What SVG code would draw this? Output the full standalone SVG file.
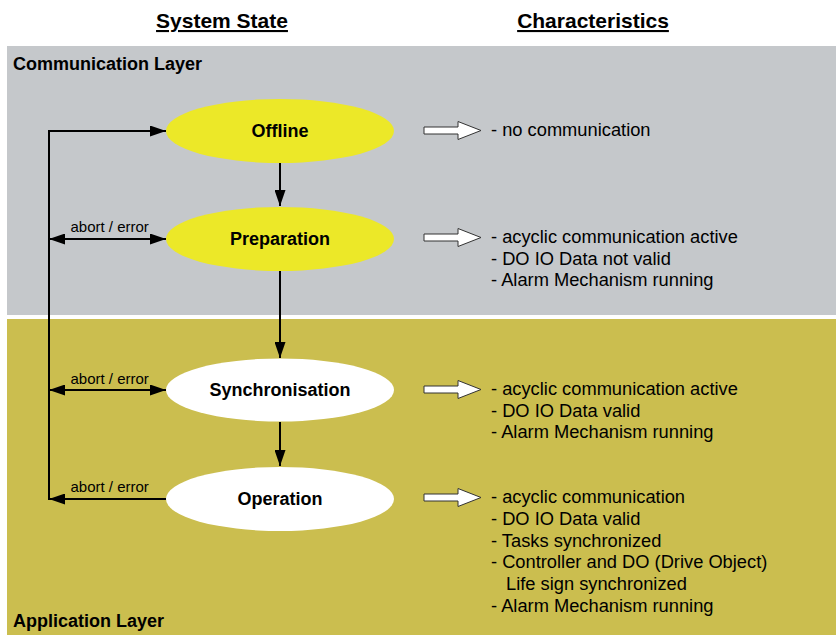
<svg xmlns="http://www.w3.org/2000/svg" width="837" height="635" viewBox="0 0 837 635">
<defs>
<style>
.hdr{font-family:"Liberation Sans",Arial,sans-serif;font-weight:bold;font-size:21px;text-decoration:underline;fill:#000;text-anchor:middle}
.layer{font-family:"Liberation Sans",Arial,sans-serif;font-weight:bold;font-size:18px;fill:#000}
.node{font-family:"Liberation Sans",Arial,sans-serif;font-weight:bold;font-size:18px;fill:#000;text-anchor:middle}
.lbl{font-family:"Liberation Sans",Arial,sans-serif;font-size:15px;fill:#000}
.ch{font-family:"Liberation Sans",Arial,sans-serif;font-size:18.3px;fill:#000}
.conn{stroke:#000;stroke-width:2;fill:none}
.hollow{fill:#fff;stroke:#333;stroke-width:1}
</style>
<marker id="ah" markerUnits="userSpaceOnUse" markerWidth="16" markerHeight="11" refX="16" refY="5.5" orient="auto-start-reverse" viewBox="0 0 16 11">
<path d="M0,0 L16,5.5 L0,11 z" fill="#000"/>
</marker>
</defs>
<rect width="837" height="635" fill="#fff"/>
<rect x="7" y="46" width="829" height="269" fill="#c5c8cb"/>
<rect x="7" y="319" width="829" height="316" fill="#cbbe4f"/>
<text class="hdr" x="222" y="28">System State</text>
<text class="hdr" x="593" y="28">Characteristics</text>
<text class="layer" x="13" y="70">Communication Layer</text>
<text class="layer" x="13" y="627">Application Layer</text>

<g id="connectors">
<path class="conn" d="M49,130 L49,500"/>
<path class="conn" d="M48,131 L166,131" marker-end="url(#ah)"/>
<path class="conn" d="M49,239 L166,239" marker-start="url(#ah)" marker-end="url(#ah)"/>
<path class="conn" d="M49,390 L166,390" marker-start="url(#ah)" marker-end="url(#ah)"/>
<path class="conn" d="M166,499 L49,499" marker-end="url(#ah)"/>
<path class="conn" d="M280,163 L280,206" marker-end="url(#ah)"/>
<path class="conn" d="M280,271 L280,358" marker-end="url(#ah)"/>
<path class="conn" d="M280,422 L280,466" marker-end="url(#ah)"/>
<text class="lbl" x="70.5" y="232">abort / error</text>
<text class="lbl" x="70.5" y="384">abort / error</text>
<text class="lbl" x="70.5" y="492">abort / error</text>
</g>

<g id="offline">
<ellipse cx="280" cy="131" rx="114" ry="32" fill="#ece828"/>
<text class="node" x="280" y="137">Offline</text>
</g>
<g id="preparation">
<ellipse cx="280" cy="239" rx="114" ry="32" fill="#ece828"/>
<text class="node" x="280" y="245">Preparation</text>
</g>
<g id="synchronisation">
<ellipse cx="280" cy="390" rx="114" ry="31.5" fill="#fff"/>
<text class="node" x="280" y="396">Synchronisation</text>
</g>
<g id="operation">
<ellipse cx="280" cy="499" rx="114" ry="32" fill="#fff"/>
<text class="node" x="280" y="505">Operation</text>
</g>

<g id="char-offline">
<polygon class="hollow" points="424,127 458,127 458,121.5 481,130.5 458,139.5 458,134 424,134"/>
<text class="ch" x="491" y="136">- no communication</text>
</g>
<g id="char-preparation">
<polygon class="hollow" points="424,234 458,234 458,228.5 481,237.5 458,246.5 458,241 424,241"/>
<text class="ch" x="491" y="243">- acyclic communication active</text>
<text class="ch" x="491" y="264.7">- DO IO Data not valid</text>
<text class="ch" x="491" y="286.3">- Alarm Mechanism running</text>
</g>
<g id="char-synchronisation">
<polygon class="hollow" points="424,386 458,386 458,380.5 481,389.5 458,398.5 458,393 424,393"/>
<text class="ch" x="491" y="395">- acyclic communication active</text>
<text class="ch" x="491" y="416.7">- DO IO Data valid</text>
<text class="ch" x="491" y="438.3">- Alarm Mechanism running</text>
</g>
<g id="char-operation">
<polygon class="hollow" points="424,494 458,494 458,488.5 481,497.5 458,506.5 458,501 424,501"/>
<text class="ch" x="491" y="503.3">- acyclic communication</text>
<text class="ch" x="491" y="525">- DO IO Data valid</text>
<text class="ch" x="491" y="546.7">- Tasks synchronized</text>
<text class="ch" x="491" y="568.3">- Controller and DO (Drive Object)</text>
<text class="ch" x="506" y="590">Life sign synchronized</text>
<text class="ch" x="491" y="611.7">- Alarm Mechanism running</text>
</g>
</svg>
